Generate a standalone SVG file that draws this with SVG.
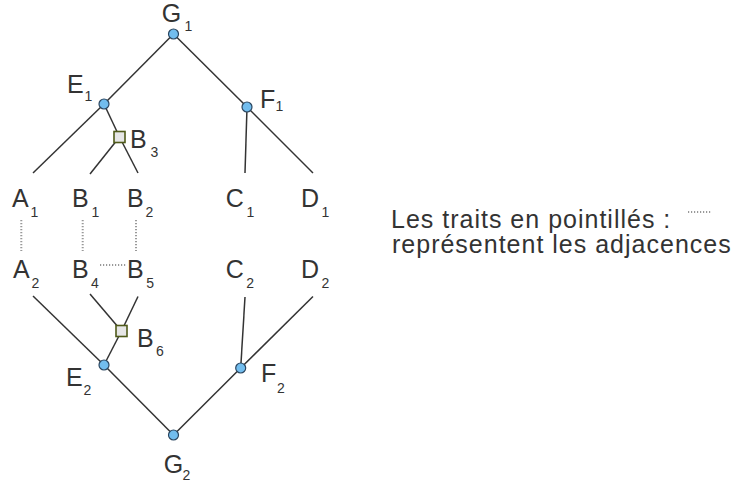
<svg xmlns="http://www.w3.org/2000/svg" width="735" height="482" viewBox="0 0 735 482">
<style>
.ln{stroke:#333;stroke-width:1.5;fill:none}
.dot{stroke:#999;stroke-width:2;stroke-dasharray:1.2,1.8;fill:none}
.c{fill:#72bdee;stroke:#2b4660;stroke-width:1.2}
.s{fill:#e6e6e6;stroke:#4f5a19;stroke-width:1.6}
text{font-family:"Liberation Sans",Arial,sans-serif;fill:#333;font-size:25px}
.sub{font-size:14px}
.lg{letter-spacing:1px}
</style>
<rect width="735" height="482" fill="#fff"/>
<g id="connectors">
<line class="ln" x1="173.5" y1="34" x2="104" y2="104"/>
<line class="ln" x1="104" y1="104" x2="33" y2="173"/>
<line class="ln" x1="173.5" y1="34" x2="247" y2="107"/>
<line class="ln" x1="247" y1="107" x2="313" y2="173"/>
<line class="ln" x1="247" y1="107" x2="245" y2="173"/>
<line class="ln" x1="104" y1="104" x2="119.5" y2="137"/>
<line class="ln" x1="119.5" y1="137" x2="90" y2="174"/>
<line class="ln" x1="119.5" y1="137" x2="138" y2="173"/>
<line class="ln" x1="33" y1="296" x2="104" y2="365"/>
<line class="ln" x1="104" y1="365" x2="173.5" y2="435"/>
<line class="ln" x1="313" y1="296.5" x2="240.7" y2="368"/>
<line class="ln" x1="240.7" y1="368" x2="173.5" y2="435"/>
<line class="ln" x1="245" y1="297" x2="240.7" y2="368"/>
<line class="ln" x1="90" y1="294" x2="121.5" y2="331"/>
<line class="ln" x1="138" y1="296.5" x2="121.5" y2="331"/>
<line class="ln" x1="121.5" y1="331" x2="104" y2="365"/>
<line class="dot" x1="21.3" y1="220" x2="21.3" y2="251"/>
<line class="dot" x1="82.7" y1="220" x2="82.7" y2="251"/>
<line class="dot" x1="136" y1="220" x2="136" y2="251"/>
<line class="dot" x1="100" y1="265" x2="126" y2="265"/>
<line class="dot" x1="688" y1="212" x2="711" y2="212"/>
</g>
<g id="G1"><circle class="c" cx="173.5" cy="34" r="5"/><text x="161.8" y="22">G<tspan class="sub" x="184.5" y="31">1</tspan></text></g>
<g id="E1"><circle class="c" cx="104" cy="104" r="5"/><text x="67" y="93">E<tspan class="sub" x="84.5" y="101">1</tspan></text></g>
<g id="F1"><circle class="c" cx="247" cy="107" r="5"/><text x="260" y="108">F<tspan class="sub" x="275.5" y="111">1</tspan></text></g>
<g id="B3"><rect class="s" x="114" y="131.5" width="11" height="11"/><text x="130" y="148">B<tspan class="sub" x="150.4" y="157">3</tspan></text></g>
<g id="A1"><text x="12" y="207">A<tspan class="sub" x="30.5" y="217">1</tspan></text></g>
<g id="B1"><text x="72" y="207">B<tspan class="sub" x="91.5" y="217">1</tspan></text></g>
<g id="B2"><text x="127" y="207">B<tspan class="sub" x="145.6" y="217">2</tspan></text></g>
<g id="C1"><text x="225.8" y="207">C<tspan class="sub" x="246.5" y="217">1</tspan></text></g>
<g id="D1"><text x="301" y="207">D<tspan class="sub" x="321.5" y="217">1</tspan></text></g>
<g id="A2"><text x="13" y="278">A<tspan class="sub" x="31.6" y="288">2</tspan></text></g>
<g id="B4"><text x="72" y="278">B<tspan class="sub" x="91" y="288">4</tspan></text></g>
<g id="B5"><text x="127" y="278">B<tspan class="sub" x="146.3" y="288">5</tspan></text></g>
<g id="C2"><text x="225.8" y="278">C<tspan class="sub" x="246.3" y="288">2</tspan></text></g>
<g id="D2"><text x="301" y="278">D<tspan class="sub" x="321.6" y="288">2</tspan></text></g>
<g id="B6"><rect class="s" x="116" y="325.5" width="11" height="11"/><text x="137" y="347">B<tspan class="sub" x="156" y="356">6</tspan></text></g>
<g id="E2"><circle class="c" cx="104" cy="365" r="5"/><text x="66" y="386">E<tspan class="sub" x="83.6" y="395">2</tspan></text></g>
<g id="F2"><circle class="c" cx="240.7" cy="368" r="5"/><text x="261" y="382">F<tspan class="sub" x="276.9" y="393">2</tspan></text></g>
<g id="G2"><circle class="c" cx="173.5" cy="435" r="5"/><text x="163.8" y="473">G<tspan class="sub" x="182.6" y="480">2</tspan></text></g>
<g id="legend">
<text class="lg" x="391" y="228">Les traits en pointillés :</text>
<text class="lg" x="392" y="253">représentent les adjacences</text>
</g>
</svg>
